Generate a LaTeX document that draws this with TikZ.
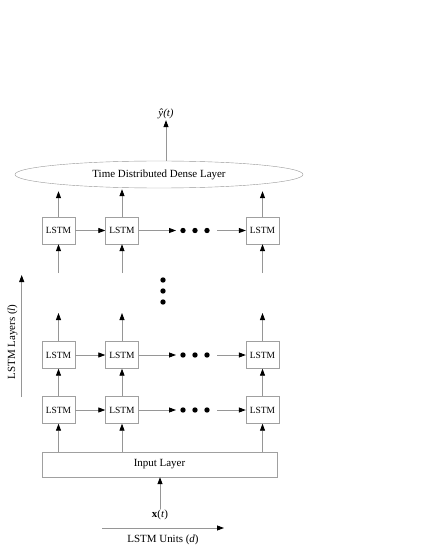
\documentclass[tikz,border=0pt]{standalone}
\usepackage{fontspec}
\setmainfont{Liberation Serif}
\usetikzlibrary{arrows.meta,shapes.geometric,calc}
\definecolor{LineClr}{RGB}{150,150,150}
\definecolor{BoxClr}{RGB}{160,160,160}

\tikzset{
  cell/.style={draw=BoxClr,fill=white,minimum width=33bp,minimum height=27bp,inner sep=0pt,font=\fontsize{9.5}{11}\selectfont},
  flow/.style={draw=LineClr,line width=0.8bp,-{Triangle[length=7bp,width=5bp,color=black]}},
  dotfill/.style={fill=black},
}

\begin{document}
\begin{tikzpicture}[x=1bp,y=-1bp,font=\fontsize{11}{13}\selectfont]
\useasboundingbox (0,0) rectangle (425,550);

% LSTM grid: rows T (top), M (middle), B (bottom)
\foreach \r/\y in {T/230.5,M/355,B/410}{
  \node[cell] (\r1) at (58.5,\y) {LSTM};
  \node[cell] (\r2) at (122,\y) {LSTM};
  \node[cell] (\r3) at (262.5,\y) {LSTM};
  \coordinate (\r a) at (176,\y);
  \coordinate (\r b) at (217,\y);
  \foreach \dx in {183,195,207} \fill[dotfill] (\dx,\y) circle (2.7);
  \draw[flow] (\r1) -- (\r2);
  \draw[flow] (\r2) -- (\r a);
  \draw[flow] (\r b) -- (\r3);
}
\foreach \dy in {280,291,302} \fill[dotfill] (163,\dy) circle (2.7);

\node[draw=BoxClr,minimum width=235bp,minimum height=25bp,inner sep=0pt] (input) at (159.5,464.5) {Input Layer};
\node[ellipse,draw=LineClr,minimum width=288bp,minimum height=27bp,inner sep=0pt] (dense) at (159,174.5) {Time Distributed Dense Layer};
\node[inner sep=1bp] (yhat) at (166,114) {\textit{ŷ(t)}};
\node[inner sep=1bp] (xt) at (160,515) {\textbf{x}(\textit{t})};

% vertical connections
\foreach \c in {1,2,3}{
  \draw[flow] (B\c |- input.north) -- (B\c);
  \draw[flow] (B\c) -- (M\c);
  \coordinate (up\c) at ($(M\c)+(0,-42)$);
  \coordinate (in\c) at ($(T\c)+(0,42.5)$);
  \draw[flow] (M\c) -- (up\c);
  \draw[flow] (in\c) -- (T\c);
}
\draw[flow,shorten >=3bp] (T1) -- (T1 |- dense.south);
\draw[flow,shorten >=1bp] (T2) -- (T2 |- dense.south);
\draw[flow,shorten >=3bp] (T3) -- (T3 |- dense.south);
\draw[flow] (yhat |- dense.north) -- (yhat);
\draw[flow] (xt) -- (xt |- input.south);

% axes
\coordinate (u0) at (102,528);
\coordinate (u1) at (224,528);
\draw[flow] (u0) -- (u1);
\node (units) at (163,540) {LSTM Units (\textit{d})};
\coordinate (l0) at (21.7,397);
\coordinate (l1) at (21.7,275);
\draw[flow] (l0) -- (l1);
\node[rotate=90] (layers) at (12.5,342) {LSTM Layers (\textit{l})};

\end{tikzpicture}
\end{document}
